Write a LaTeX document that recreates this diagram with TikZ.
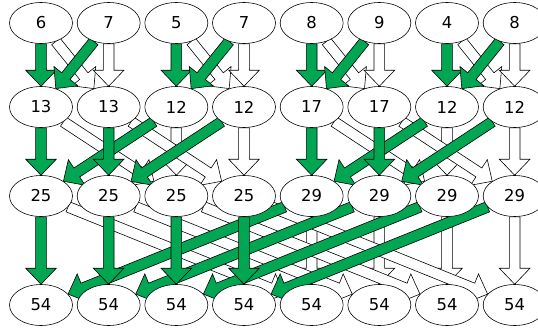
\documentclass[tikz,border=0pt]{standalone}
\usepackage{fontspec}
\setmainfont{DejaVu Sans}
\usepackage{tikz}
\usetikzlibrary{
    calc,
    backgrounds,
    shapes.geometric
}

\definecolor{sumgreen}{RGB}{0,166,81}

\tikzset{
    val/.style={ellipse, draw, fill=white, line width=0.5pt,
        minimum width=1.89cm, minimum height=1.23cm, inner sep=0pt,
        font=\fontsize{14}{16}\selectfont}
}

% Fat outlined arrow from node #1 to node #2, filled with #3
\newcommand{\fatarrow}[3]{%
    \path (#1) -- (#2) coordinate[pos=0] (fs) coordinate[pos=1] (fe);
    \coordinate (fh) at ($(fe)!0.48cm!(fs)$);
    \filldraw[fill=#3, line width=0.5pt, line join=miter]
        ($(fs)!0.16cm!90:(fe)$) -- ($(fh)!0.16cm!90:(fe)$)
        -- ($(fh)!0.46cm!90:(fe)$) -- (fe)
        -- ($(fh)!0.46cm!-90:(fe)$) -- ($(fh)!0.16cm!-90:(fe)$)
        -- ($(fs)!0.16cm!-90:(fe)$) -- cycle;
}

\begin{document}
\begin{tikzpicture}

\useasboundingbox (0,0) rectangle (16.14,-9.93);

% Values, row by row
\foreach \v [count=\i from 0] in {6,7,5,7,8,9,4,8}
    \node[val] (a\i) at (1.23+2.03*\i,-0.69) {\v};
\foreach \v [count=\i from 0] in {13,13,12,12,17,17,12,12}
    \node[val] (b\i) at (1.23+2.03*\i,-3.21) {\v};
\foreach \v [count=\i from 0] in {25,25,25,25,29,29,29,29}
    \node[val] (c\i) at (1.23+2.03*\i,-5.88) {\v};
\foreach \i in {0,...,7}
    \node[val] (d\i) at (1.23+2.03*\i,-9.15) {54};

\begin{scope}[on background layer]
% Stage 1: pairs
\foreach \s/\t in {0/1,1/1,2/3,3/3,4/5,5/5,6/7,7/7}
    {\fatarrow{a\s}{b\t}{white}}
\foreach \s/\t in {0/0,1/0,2/2,3/2,4/4,5/4,6/6,7/6}
    {\fatarrow{a\s}{b\t}{sumgreen}}

% Stage 2: groups of four
\foreach \s/\t in {0/2,2/2,1/3,3/3,4/6,6/6,5/7,7/7}
    {\fatarrow{b\s}{c\t}{white}}
\foreach \s/\t in {0/0,2/0,1/1,3/1,4/4,6/4,5/5,7/5}
    {\fatarrow{b\s}{c\t}{sumgreen}}

% Stage 3: all eight
\foreach \j [evaluate=\j as \k using int(\j+4)] in {0,...,3}
    {\fatarrow{c\j}{d\k}{white}
     \fatarrow{c\k}{d\k}{white}}
\foreach \j [evaluate=\j as \k using int(\j+4)] in {0,...,3}
    {\fatarrow{c\j}{d\j}{sumgreen}
     \fatarrow{c\k}{d\j}{sumgreen}}
\end{scope}

\end{tikzpicture}
\end{document}
